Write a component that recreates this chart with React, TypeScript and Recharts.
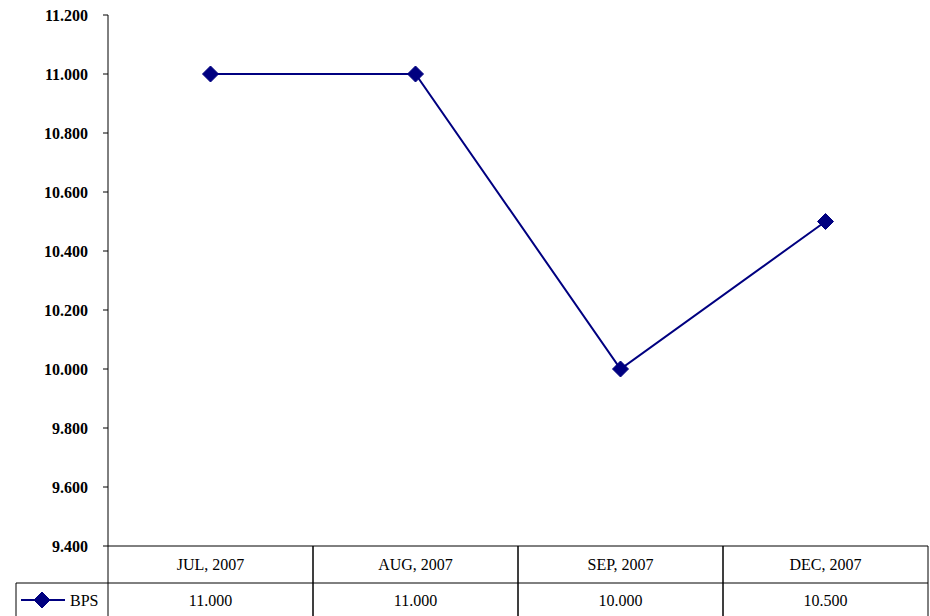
import { LineChart, Line, XAxis, YAxis } from "recharts";

// BPS by month
const categories = ["JUL, 2007", "AUG, 2007", "SEP, 2007", "DEC, 2007"];
const bps = [11.0, 11.0, 10.0, 10.5];
const yTicks = [9.4, 9.6, 9.8, 10.0, 10.2, 10.4, 10.6, 10.8, 11.0, 11.2];

const chartData = categories.map((name, i) => ({ name, bps: bps[i] }));

const FONT = "'Liberation Serif', 'DejaVu Serif', serif";
const NAVY = "#000080";
const CELL_W = 205; // width of one category column
const ROW_H = 37; // height of the category row

// Diamond marker
const Diamond = (props: any) => {
  const { cx, cy } = props;
  if (cx == null || cy == null) return null;
  const r = 8;
  return (
    <path
      d={`M${cx},${cy - r} L${cx + r},${cy} L${cx},${cy + r} L${cx - r},${cy} Z`}
      fill={NAVY}
      stroke={NAVY}
    />
  );
};

// Data table drawn under each category
const TableTick = (props: any) => {
  const { x, y, payload, index } = props;
  const left = x - CELL_W / 2;
  const right = x + CELL_W / 2;
  const value = bps[payload.index ?? index];
  return (
    <g>
      <line x1={left} y1={y} x2={left} y2={y + 80} stroke="#000" />
      <line x1={right} y1={y} x2={right} y2={y + 80} stroke="#000" />
      <line x1={left} y1={y + ROW_H} x2={right} y2={y + ROW_H} stroke="#000" />
      <text x={x} y={y + 24} textAnchor="middle" fontFamily={FONT} fontSize={16} fill="#000">
        {payload.value}
      </text>
      <text x={x} y={y + ROW_H + 23} textAnchor="middle" fontFamily={FONT} fontSize={16} fill="#000">
        {value.toFixed(3)}
      </text>
      {index === 0 && (
        <g>
          <line x1={16} y1={y + ROW_H} x2={left} y2={y + ROW_H} stroke="#000" />
          <line x1={16} y1={y + ROW_H} x2={16} y2={y + 80} stroke="#000" />
          <line x1={21} y1={y + ROW_H + 17} x2={65} y2={y + ROW_H + 17} stroke={NAVY} strokeWidth={2} />
          <Diamond cx={42} cy={y + ROW_H + 17} />
          <text x={70} y={y + ROW_H + 23} fontFamily={FONT} fontSize={16} fill="#000">
            BPS
          </text>
        </g>
      )}
    </g>
  );
};

export default function App() {
  return (
    <div style={{ position: "absolute", left: 0, top: 0, width: 930, height: 616, background: "#fff" }}>
      <LineChart
        width={930}
        height={616}
        data={chartData}
        margin={{ top: 15, right: 2, left: 0, bottom: 0 }}
      >
        <XAxis
          dataKey="name"
          height={70}
          interval={0}
          tickSize={0}
          tickMargin={0}
          tickLine={false}
          axisLine={{ stroke: "#000" }}
          tick={<TableTick />}
          padding={{ left: CELL_W / 2, right: CELL_W / 2 }}
        />
        <YAxis
          width={108}
          domain={[9.4, 11.2]}
          ticks={yTicks}
          tickFormatter={(v: number) => v.toFixed(3)}
          tickSize={5}
          tickMargin={15}
          axisLine={{ stroke: "#000" }}
          tickLine={{ stroke: "#000" }}
          tick={{ fontFamily: FONT, fontSize: 16, fontWeight: "bold", fill: "#000" }}
          interval={0}
        />
        <Line
          type="linear"
          dataKey="bps"
          stroke={NAVY}
          strokeWidth={2}
          dot={<Diamond />}
          activeDot={false}
          isAnimationActive={false}
        />
      </LineChart>
    </div>
  );
}
